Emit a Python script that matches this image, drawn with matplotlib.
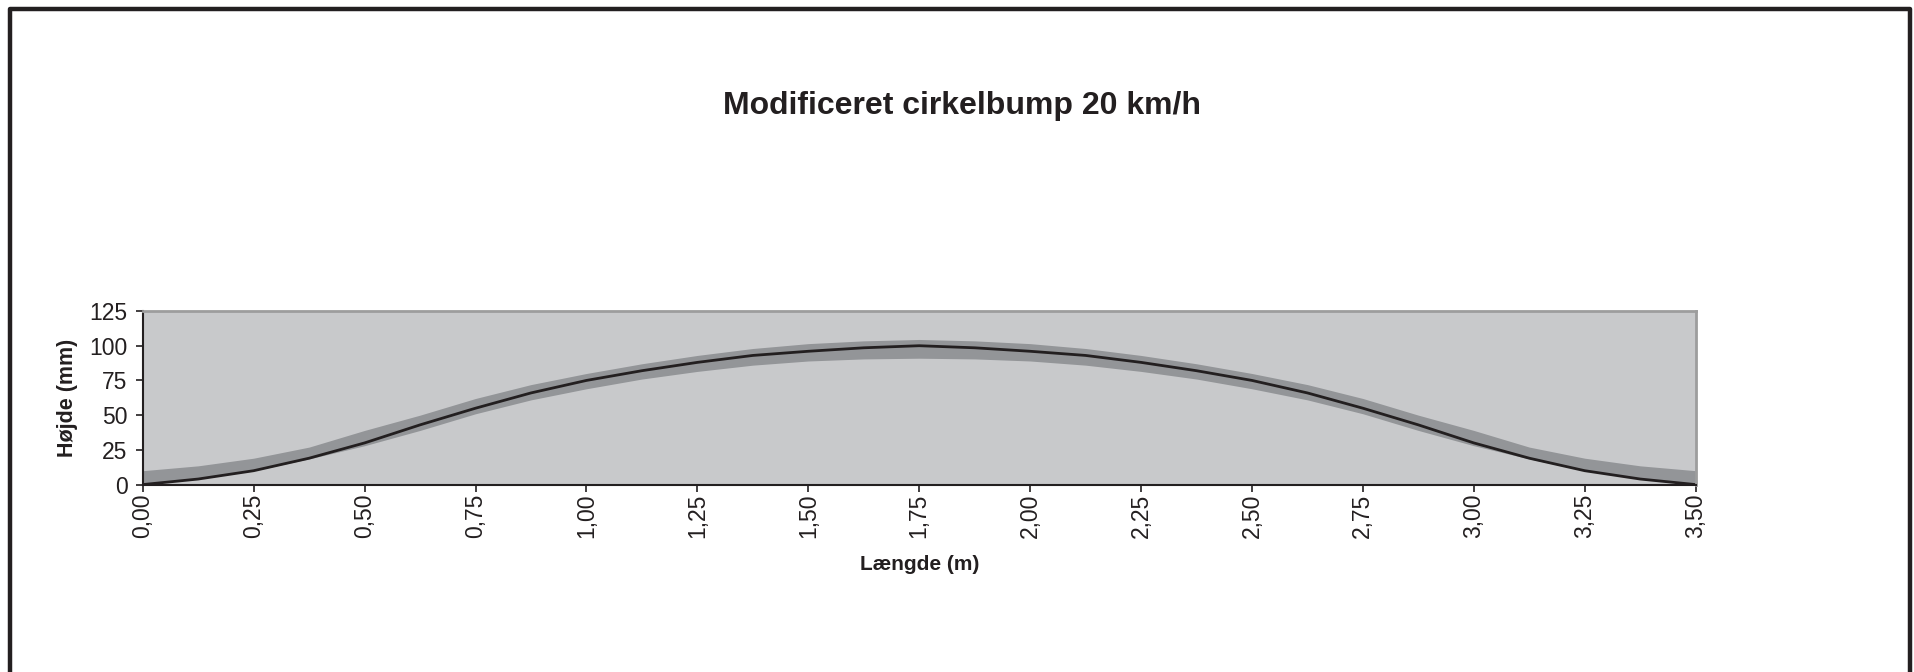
import matplotlib
matplotlib.use('Agg')
import matplotlib.pyplot as plt
from matplotlib.lines import Line2D
import numpy as np

plt.rcParams['font.family'] = ['Liberation Sans', 'DejaVu Sans']

# Laengde (m)
x = [0.0, 0.125, 0.25, 0.375, 0.5, 0.625, 0.75, 0.875, 1.0, 1.125, 1.25, 1.375, 1.5, 1.625, 1.75,
     1.875, 2.0, 2.125, 2.25, 2.375, 2.5, 2.625, 2.75, 2.875, 3.0, 3.125, 3.25, 3.375, 3.5]
# profil (mm)
hojde = [0, 4, 10, 19, 30, 43, 55, 66, 75, 82, 88, 93, 96, 98.5, 100,
         98.5, 96, 93, 88, 82, 75, 66, 55, 43, 30, 19, 10, 4, 0]
# tolerance - oevre og nedre graense
oevre = [10, 13.5, 19, 27, 39, 50, 62, 72, 80, 87, 93, 98, 101.5, 103.5, 104.5,
         103.5, 101.5, 98, 93, 87, 80, 72, 62, 50, 39, 27, 19, 13.5, 10]
nedre = [0, 4, 10, 18.5, 28, 39, 51, 61, 69, 76, 81.5, 86, 89, 90.5, 91,
         90.5, 89, 86, 81.5, 76, 69, 61, 51, 39, 28, 18.5, 10, 4, 0]

xticks = np.arange(0, 3.51, 0.25)
yticks = [0, 25, 50, 75, 100, 125]

fig = plt.figure(figsize=(19.14, 6.72), dpi=100)
ax = fig.add_axes([0.0746, 0.2789, 0.8113, 0.2583])

ax.set_facecolor('#c8c9cb')
ax.fill_between(x, nedre, oevre, color='#939598', lw=0)
ax.plot(x, hojde, color='#231f20', lw=2.0, solid_joinstyle='round')

ax.set_xlim(0, 3.5)
ax.set_ylim(0, 125)
ax.set_xticks(xticks)
ax.set_xticklabels([('%.2f' % t).replace('.', ',') for t in xticks], rotation=90, fontsize=16.5)
ax.set_yticks(yticks)
ax.set_yticklabels([str(t) for t in yticks], fontsize=16.5)
ax.tick_params(direction='out', length=5, width=1.2, color='#231f20', labelcolor='#231f20')
ax.tick_params(axis='x', pad=1.5)
ax.tick_params(axis='y', pad=6)

for s in ['top', 'right']:
    ax.spines[s].set_color('#9d9d9d')
    ax.spines[s].set_linewidth(2)
for s in ['left', 'bottom']:
    ax.spines[s].set_color('#231f20')
    ax.spines[s].set_linewidth(1.5)

ax.set_xlabel('Længde (m)', fontsize=15, fontweight='bold', color='#231f20')
ax.set_ylabel('Højde (mm)', fontsize=15.5, fontweight='bold', color='#231f20')
ax.xaxis.set_label_coords(0.5, -0.463)
ax.xaxis.label.set_va('center')
ax.yaxis.set_label_coords(-0.0488, 0.5)
ax.yaxis.label.set_va('center')

fig.text(962 / 1914, 1 - 106 / 672, 'Modificeret cirkelbump 20 km/h', ha='center', va='center',
         fontsize=23, fontweight='bold', color='#231f20')

# ramme rundt om diagrammet
l, r, t, b = 9.5 / 1914, 1909.5 / 1914, 1 - 8.5 / 672, -0.05
fig.add_artist(Line2D([l, l, r, r], [b, t, t, b], transform=fig.transFigure,
                      color='#231f20', lw=3.2))

fig.savefig('out.png', dpi=100)
